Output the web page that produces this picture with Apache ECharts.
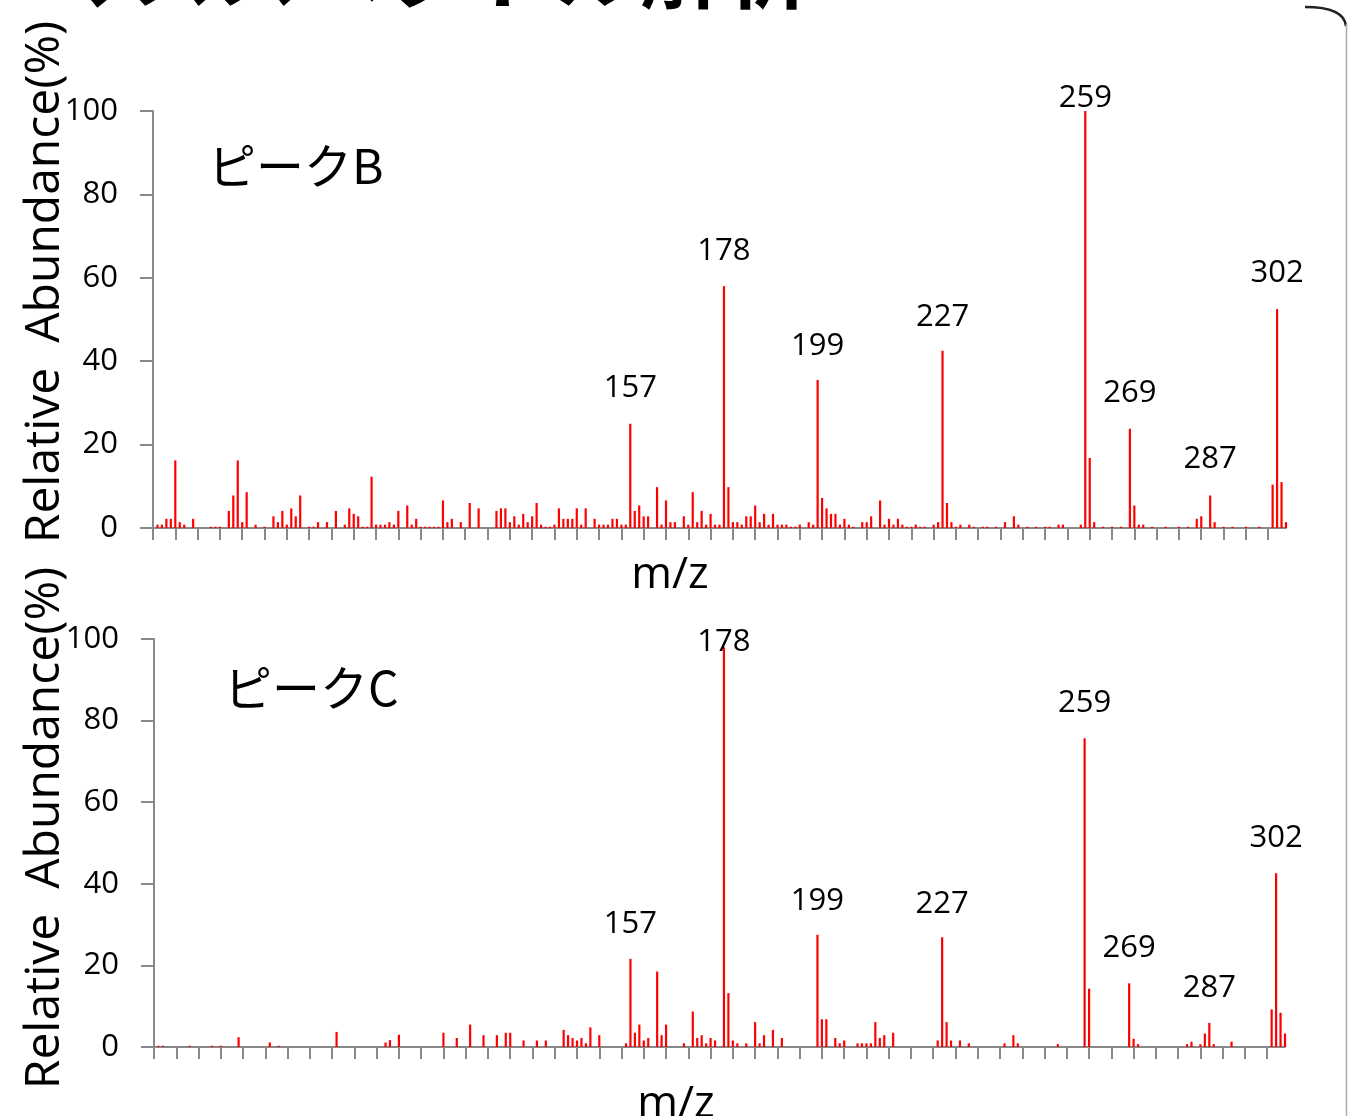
<!DOCTYPE html>
<html lang="ja">
<head>
<meta charset="UTF-8" />
<title>ピークB / ピークC</title>
<script src="https://cdn.jsdelivr.net/npm/echarts@6/dist/echarts.min.js"></script>
<style>
  html, body { margin: 0; padding: 0; background: #fff; }
  #chart { width: 1348px; height: 1116px; }
</style>
</head>
<body>
<div id="chart"></div>
<script>
// m/z axis runs 50..304, one category per unit
var mzStart = 50;
var mzEnd = 304;
var yTicks = [0, 20, 40, 60, 80, 100];

// ピークB (top spectrum): m/z and relative abundance (%)
var mzB = [51, 52, 53, 54, 55, 56, 57, 59, 63, 64, 65, 67, 68, 69, 70, 71, 73, 75, 77, 78, 79, 80, 81, 82, 83,
  85, 86, 87, 89, 91, 93, 94, 95, 96, 97, 98, 99, 100, 101, 102, 103, 104, 105, 107, 108, 109, 110, 111, 112,
  113, 114, 115, 116, 117, 119, 121, 123, 127, 128, 129, 130, 131, 132, 133, 134, 135, 136, 137, 138, 139,
  140, 141, 142, 143, 144, 145, 146, 147, 149, 150, 151, 152, 153, 154, 155, 156, 157, 158, 159, 160, 161,
  163, 164, 165, 166, 167, 169, 170, 171, 172, 173, 174, 175, 176, 177, 178, 179,
  180, 181, 182, 183, 184, 185, 186, 187, 188, 189, 190, 191, 192, 193, 194, 195, 197, 198, 199, 200, 201,
  202, 203, 204, 205, 206, 207, 209, 210, 211, 213, 214, 215, 216, 217, 218, 219, 220, 221, 222, 223, 225,
  226, 227, 228, 229, 230, 231, 233, 234, 236, 237, 239, 241, 243, 244, 246, 248, 250, 251, 253, 254, 258,
  259, 260, 261, 263, 265, 267, 269, 270, 271, 272, 274, 277, 280, 282, 284, 285, 287, 288, 290, 292, 295,
  298, 301, 302, 303, 304];
var relB = [0.8, 0.8, 2.2, 2.2, 16.2, 1.4, 0.8, 2.2, 0.3, 0.3, 0.3, 4.1, 7.8, 16.2, 1.4, 8.6, 0.8, 0.3, 2.8, 1.4, 4.1, 0.8, 4.7, 2.8, 7.8,
  0.3, 0.3, 1.4, 1.4, 4.1, 0.8, 4.7, 3.4, 2.8, 0.3, 0.3, 12.3, 0.8, 0.8, 0.8, 1.4, 0.8, 4.1, 5.4, 0.8, 2.2, 0.3, 0.3, 0.3,
  0.3, 0.3, 6.6, 1.4, 2.2, 1.4, 6.0, 4.7, 4.1, 4.7, 4.7, 1.4, 2.8, 0.8, 3.4, 1.4, 2.8, 6.0, 0.8, 0.3, 0.3,
  0.8, 4.7, 2.2, 2.2, 2.2, 4.7, 0.8, 4.7, 2.2, 0.8, 0.8, 0.8, 2.2, 2.2, 0.8, 0.8, 25.0, 4.1, 5.4, 2.8, 2.8,
  9.8, 0.8, 6.6, 1.4, 1.4, 2.8, 0.8, 8.6, 1.4, 4.1, 0.8, 3.4, 0.8, 0.8, 58.0, 9.8,
  1.4, 1.4, 0.8, 2.8, 2.8, 5.4, 1.4, 3.4, 0.8, 3.4, 0.8, 0.8, 0.8, 0.3, 0.3, 0.8, 1.4, 0.8, 35.5, 7.2, 4.7,
  3.4, 3.4, 0.8, 2.2, 0.8, 0.3, 1.4, 1.4, 2.8, 6.6, 0.8, 2.2, 0.8, 2.2, 0.8, 0.3, 0.3, 0.8, 0.3, 0.3, 0.8,
  1.4, 42.5, 6.0, 1.4, 0.3, 0.8, 0.8, 0.3, 0.3, 0.3, 0.3, 1.4, 2.8, 0.8, 0.3, 0.3, 0.3, 0.3, 0.8, 0.8, 0.8,
  100, 16.8, 1.4, 0.3, 0.3, 0.3, 23.8, 5.4, 0.8, 0.8, 0.3, 0.3, 0.3, 0.3, 2.2, 2.8, 7.8, 1.4, 0.3, 0.3, 0.3,
  0.3, 10.4, 52.5, 11.0, 1.4];

// ピークC (bottom spectrum)
var mzC = [51, 52, 58, 63, 65, 69, 76, 78, 91, 102, 103, 105, 115, 118, 121, 124, 127, 129, 130, 133, 136, 138,
  142, 143, 144, 145, 146, 147, 148, 150, 156, 157, 158, 159, 160, 161, 163, 164, 165, 169, 171, 172, 173, 174,
  175, 176, 178, 179, 180, 181, 183, 185, 186, 187, 189, 191, 199, 200, 201, 203, 204, 205, 208, 209, 210,
  211, 212, 213, 214, 216, 226, 227, 228, 229, 231, 233, 241, 243, 244, 253, 259, 260, 269, 270, 271, 282,
  283, 285, 286, 287, 288, 292, 301, 302, 303, 304];
var relC = [0.3, 0.3, 0.3, 0.3, 0.3, 2.4, 1.1, 0.3, 3.7, 1.1, 1.7, 3.0, 3.5, 2.2, 5.5, 2.9, 2.9, 3.5, 3.5, 1.6, 1.6, 1.6,
  4.2, 2.9, 2.2, 1.6, 2.2, 0.9, 4.8, 2.9, 0.9, 21.6, 3.5, 5.5, 1.6, 2.2, 18.5, 2.9, 5.5, 0.9, 8.7, 2.2, 2.9, 0.9,
  2.2, 1.6, 98.0, 13.2, 1.6, 0.9, 0.9, 6.1, 0.9, 2.9, 4.2, 2.2, 27.5, 6.8, 6.8, 2.2, 0.9, 1.6, 0.9, 0.9, 0.9,
  0.9, 6.1, 2.2, 2.9, 3.5, 1.6, 26.9, 6.1, 1.6, 1.6, 0.9, 0.9, 2.9, 0.9, 0.7, 75.7, 14.3, 15.6, 2.0, 0.7, 0.7,
  1.3, 0.7, 3.3, 5.9, 0.7, 1.3, 9.2, 42.6, 8.4, 3.3];

// annotated peaks and the height (in %) where each number sits
var peakMz = [157, 178, 199, 227, 259, 269, 287, 302];
var peakLabelYB = [33.6, 66.4, 43.6, 50.6, 103.1, 32.4, 16.5, 61.2];
var peakLabelYC = [30.1, 99.3, 35.8, 35.0, 84.3, 24.3, 14.5, 51.2];

var mzAxis = [];
for (var m = mzStart; m <= mzEnd; m++) mzAxis.push(String(m));

function spectrum(mzList, relList) {
  var out = mzAxis.map(function () { return 0; });
  mzList.forEach(function (mz, i) { out[mz - mzStart] = relList[i]; });
  return out;
}
function peakPoints(ys) {
  return peakMz.map(function (mz, i) { return [String(mz), ys[i], mz]; });
}

var axisGray = '#898989';
var latin = '"Open Sans", "Liberation Sans", sans-serif';
var cjk = '"Noto Sans CJK JP", sans-serif';

function xAx(gi) {
  return {
    type: 'category', gridIndex: gi, data: mzAxis, boundaryGap: false,
    axisLine: { lineStyle: { color: axisGray, width: 2 } },
    axisTick: { show: true, interval: 4, length: 12, lineStyle: { color: axisGray, width: 2 } },
    axisLabel: { show: false },
    splitLine: { show: false }
  };
}
function yAx(gi) {
  return {
    type: 'value', gridIndex: gi, min: 0, max: 100, interval: 20,
    axisLine: { show: true, lineStyle: { color: axisGray, width: 2 } },
    axisTick: { show: true, length: 13, lineStyle: { color: axisGray, width: 2 } },
    axisLabel: { color: '#000', fontSize: 31, fontFamily: latin, margin: 35 },
    splitLine: { show: false }
  };
}
function bars(gi, data) {
  return {
    type: 'bar', xAxisIndex: gi, yAxisIndex: gi, data: data,
    barWidth: 2.2, itemStyle: { color: '#ff0000' }
  };
}
function peakText(gi, pts) {
  return {
    type: 'scatter', xAxisIndex: gi, yAxisIndex: gi, data: pts, clip: false,
    symbolSize: 1, itemStyle: { opacity: 0 }, z: 5,
    label: {
      show: true, position: 'inside', color: '#000', opacity: 1, textBorderWidth: 0,
      fontSize: 31, fontFamily: latin,
      formatter: function (p) { return String(p.data[2]); }
    }
  };
}

var chart = echarts.init(document.getElementById('chart'));
chart.setOption({
  animation: false,
  backgroundColor: '#fff',
  grid: [
    { left: 153, top: 111, width: 1133, height: 417 },
    { left: 154, top: 639, width: 1131, height: 408 }
  ],
  xAxis: [xAx(0), xAx(1)],
  yAxis: [yAx(0), yAx(1)],
  series: [
    bars(0, spectrum(mzB, relB)),
    bars(1, spectrum(mzC, relC)),
    peakText(0, peakPoints(peakLabelYB)),
    peakText(1, peakPoints(peakLabelYC))
  ],
  graphic: [
    // slide title, cut off by the top edge
    { type: 'text', x: 810, y: 12, style: { text: 'マススペクトル解析', font: 'bold 85px ' + cjk, fill: '#000', textAlign: 'right', textVerticalAlign: 'bottom' } },
    // frame corner at the right edge
    { type: 'bezierCurve', shape: { x1: 1305, y1: 7, x2: 1346, y2: 26, cpx1: 1344, cpy1: 7 }, style: { stroke: '#222', lineWidth: 2.5, fill: null } },
    { type: 'line', shape: { x1: 1346.5, y1: 24, x2: 1346.5, y2: 1116 }, style: { stroke: '#aaa', lineWidth: 1.5 } },
    { type: 'text', x: 45, y: 282, rotation: Math.PI / 2, style: { text: 'Relative  Abundance(%)', font: '48px ' + latin, fill: '#000', textAlign: 'center', textVerticalAlign: 'middle' } },
    { type: 'text', x: 45, y: 828, rotation: Math.PI / 2, style: { text: 'Relative  Abundance(%)', font: '48px ' + latin, fill: '#000', textAlign: 'center', textVerticalAlign: 'middle' } },
    { type: 'text', x: 670, y: 575, style: { text: 'm/z', font: '44px ' + latin, fill: '#000', textAlign: 'center', textVerticalAlign: 'middle' } },
    { type: 'text', x: 676, y: 1104, style: { text: 'm/z', font: '44px ' + latin, fill: '#000', textAlign: 'center', textVerticalAlign: 'middle' } },
    { type: 'text', x: 208, y: 166, style: { text: 'ピークB', font: '48px ' + cjk, fill: '#000', textAlign: 'left', textVerticalAlign: 'middle' } },
    { type: 'text', x: 224, y: 688, style: { text: 'ピークC', font: '48px ' + cjk, fill: '#000', textAlign: 'left', textVerticalAlign: 'middle' } }
  ]
});
</script>
</body>
</html>
